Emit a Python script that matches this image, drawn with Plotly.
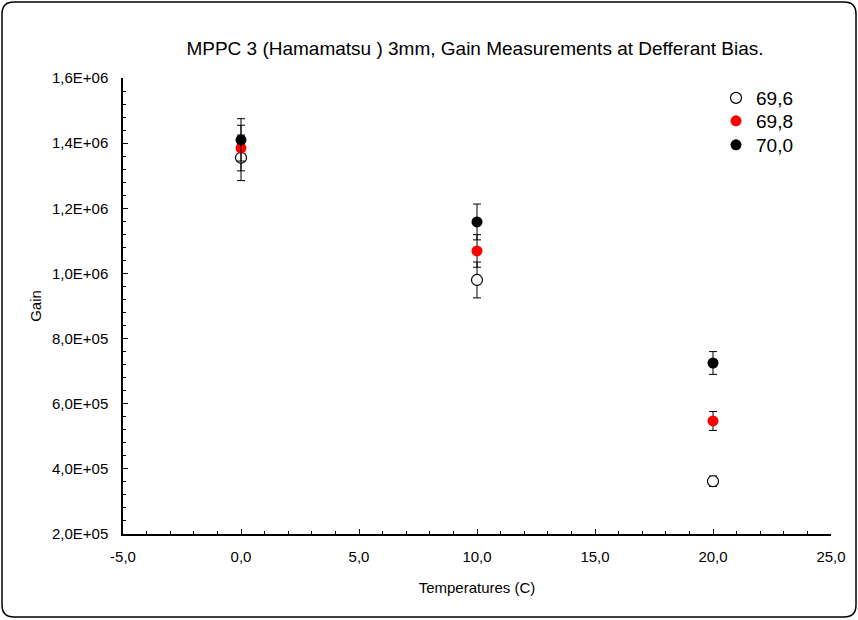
import plotly.graph_objects as go

temperatures = [0, 10, 20]
bias_labels = ["69,6", "69,8", "70,0"]
gain_696 = [1.355e6, 0.980e6, 3.62e5]
err_696 = [7.0e4, 5.5e4, 1.6e4]
gain_698 = [1.385e6, 1.069e6, 5.47e5]
err_698 = [7.0e4, 5.0e4, 2.9e4]
gain_700 = [1.410e6, 1.158e6, 7.25e5]
err_700 = [6.5e4, 5.5e4, 3.5e4]

x_tickvals = [-5, 0, 5, 10, 15, 20, 25]
x_ticktext = ["-5,0", "0,0", "5,0", "10,0", "15,0", "20,0", "25,0"]
y_tickvals = [2e5, 4e5, 6e5, 8e5, 1e6, 1.2e6, 1.4e6, 1.6e6]
y_ticktext = ["2,0E+05", "4,0E+05", "6,0E+05", "8,0E+05", "1,0E+06", "1,2E+06", "1,4E+06", "1,6E+06"]

series = [
    (bias_labels[0], gain_696, err_696, dict(color="white", line=dict(color="black", width=1.2))),
    (bias_labels[1], gain_698, err_698, dict(color="#ff0000", line=dict(color="#ff0000", width=0))),
    (bias_labels[2], gain_700, err_700, dict(color="black", line=dict(color="black", width=0))),
]
legend_ids = ["legend", "legend2", "legend3"]
legend_rows_px = [98, 121, 145]

fig = go.Figure()
for (name, ys, es, mk), lid in zip(series, legend_ids):
    fig.add_trace(go.Scatter(
        x=temperatures, y=ys, name=name, mode="markers", legend=lid,
        marker=dict(size=11, symbol="circle", **mk),
        error_y=dict(type="data", array=es, visible=True, color="black", thickness=1, width=4),
    ))

L, R, T, B = 123, 27, 78, 86
W, H = 858, 620
pw, ph = W - L - R, H - T - B

def px_x(p):
    return (p - L) / pw

def px_y(p):
    return (H - B - p) / ph

x0, x1 = px_x(2), px_x(856)
y0, y1 = px_y(617), px_y(2)
rx, ry = 12 / pw, 12 / ph
path = (f"M {x0+rx},{y1} L {x1-rx},{y1} Q {x1},{y1} {x1},{y1-ry} "
        f"L {x1},{y0+ry} Q {x1},{y0} {x1-rx},{y0} L {x0+rx},{y0} "
        f"Q {x0},{y0} {x0},{y0+ry} L {x0},{y1-ry} Q {x0},{y1} {x0+rx},{y1} Z")

legend_style = dict(xanchor="left", yanchor="middle", font=dict(size=19, color="black"),
                    bgcolor="rgba(0,0,0,0)", itemwidth=30, tracegroupgap=0)
legends = {}
for lid, ypx in zip(legend_ids, legend_rows_px):
    legends[lid] = dict(x=px_x(716), y=px_y(ypx), **legend_style)

fig.update_layout(
    width=W, height=H,
    margin=dict(l=L, r=R, t=T, b=B),
    paper_bgcolor="white", plot_bgcolor="white",
    font=dict(family="Liberation Sans, Arial", color="black", size=15),
    title=dict(text="MPPC 3 (Hamamatsu ) 3mm, Gain Measurements at Defferant Bias.",
               x=475 / W, xanchor="center", y=1 - 48 / H, yanchor="middle",
               font=dict(size=19, color="black")),
    showlegend=True,
    shapes=[dict(type="path", path=path, xref="paper", yref="paper",
                 line=dict(color="black", width=1.5), layer="above")],
    **legends,
)

fig.update_xaxes(
    range=[-5, 25], tickvals=x_tickvals, ticktext=x_ticktext,
    showgrid=False, zeroline=False, showline=True, linecolor="black", linewidth=1.5,
    ticks="inside", ticklen=5, tickcolor="black", tickwidth=1,
    minor=dict(dtick=1, ticks="inside", ticklen=3, tickcolor="black", showgrid=False),
    title=dict(text="Temperatures (C)", font=dict(size=15), standoff=19),
    tickfont=dict(size=15), ticklabelstandoff=8,
)
fig.update_yaxes(
    range=[2e5, 1.6e6], tickvals=y_tickvals, ticktext=y_ticktext,
    showgrid=False, zeroline=False, showline=True, linecolor="black", linewidth=1.5,
    ticks="inside", ticklen=5, tickcolor="black", tickwidth=1,
    minor=dict(dtick=4e4, tick0=2e5, ticks="inside", ticklen=3, tickcolor="black", showgrid=False),
    title=dict(text="Gain", font=dict(size=15), standoff=7),
    tickfont=dict(size=15), ticklabelstandoff=10,
)

fig.write_html("out.html", config={"displayModeBar": False},
               post_script="document.body.style.margin='0';")
